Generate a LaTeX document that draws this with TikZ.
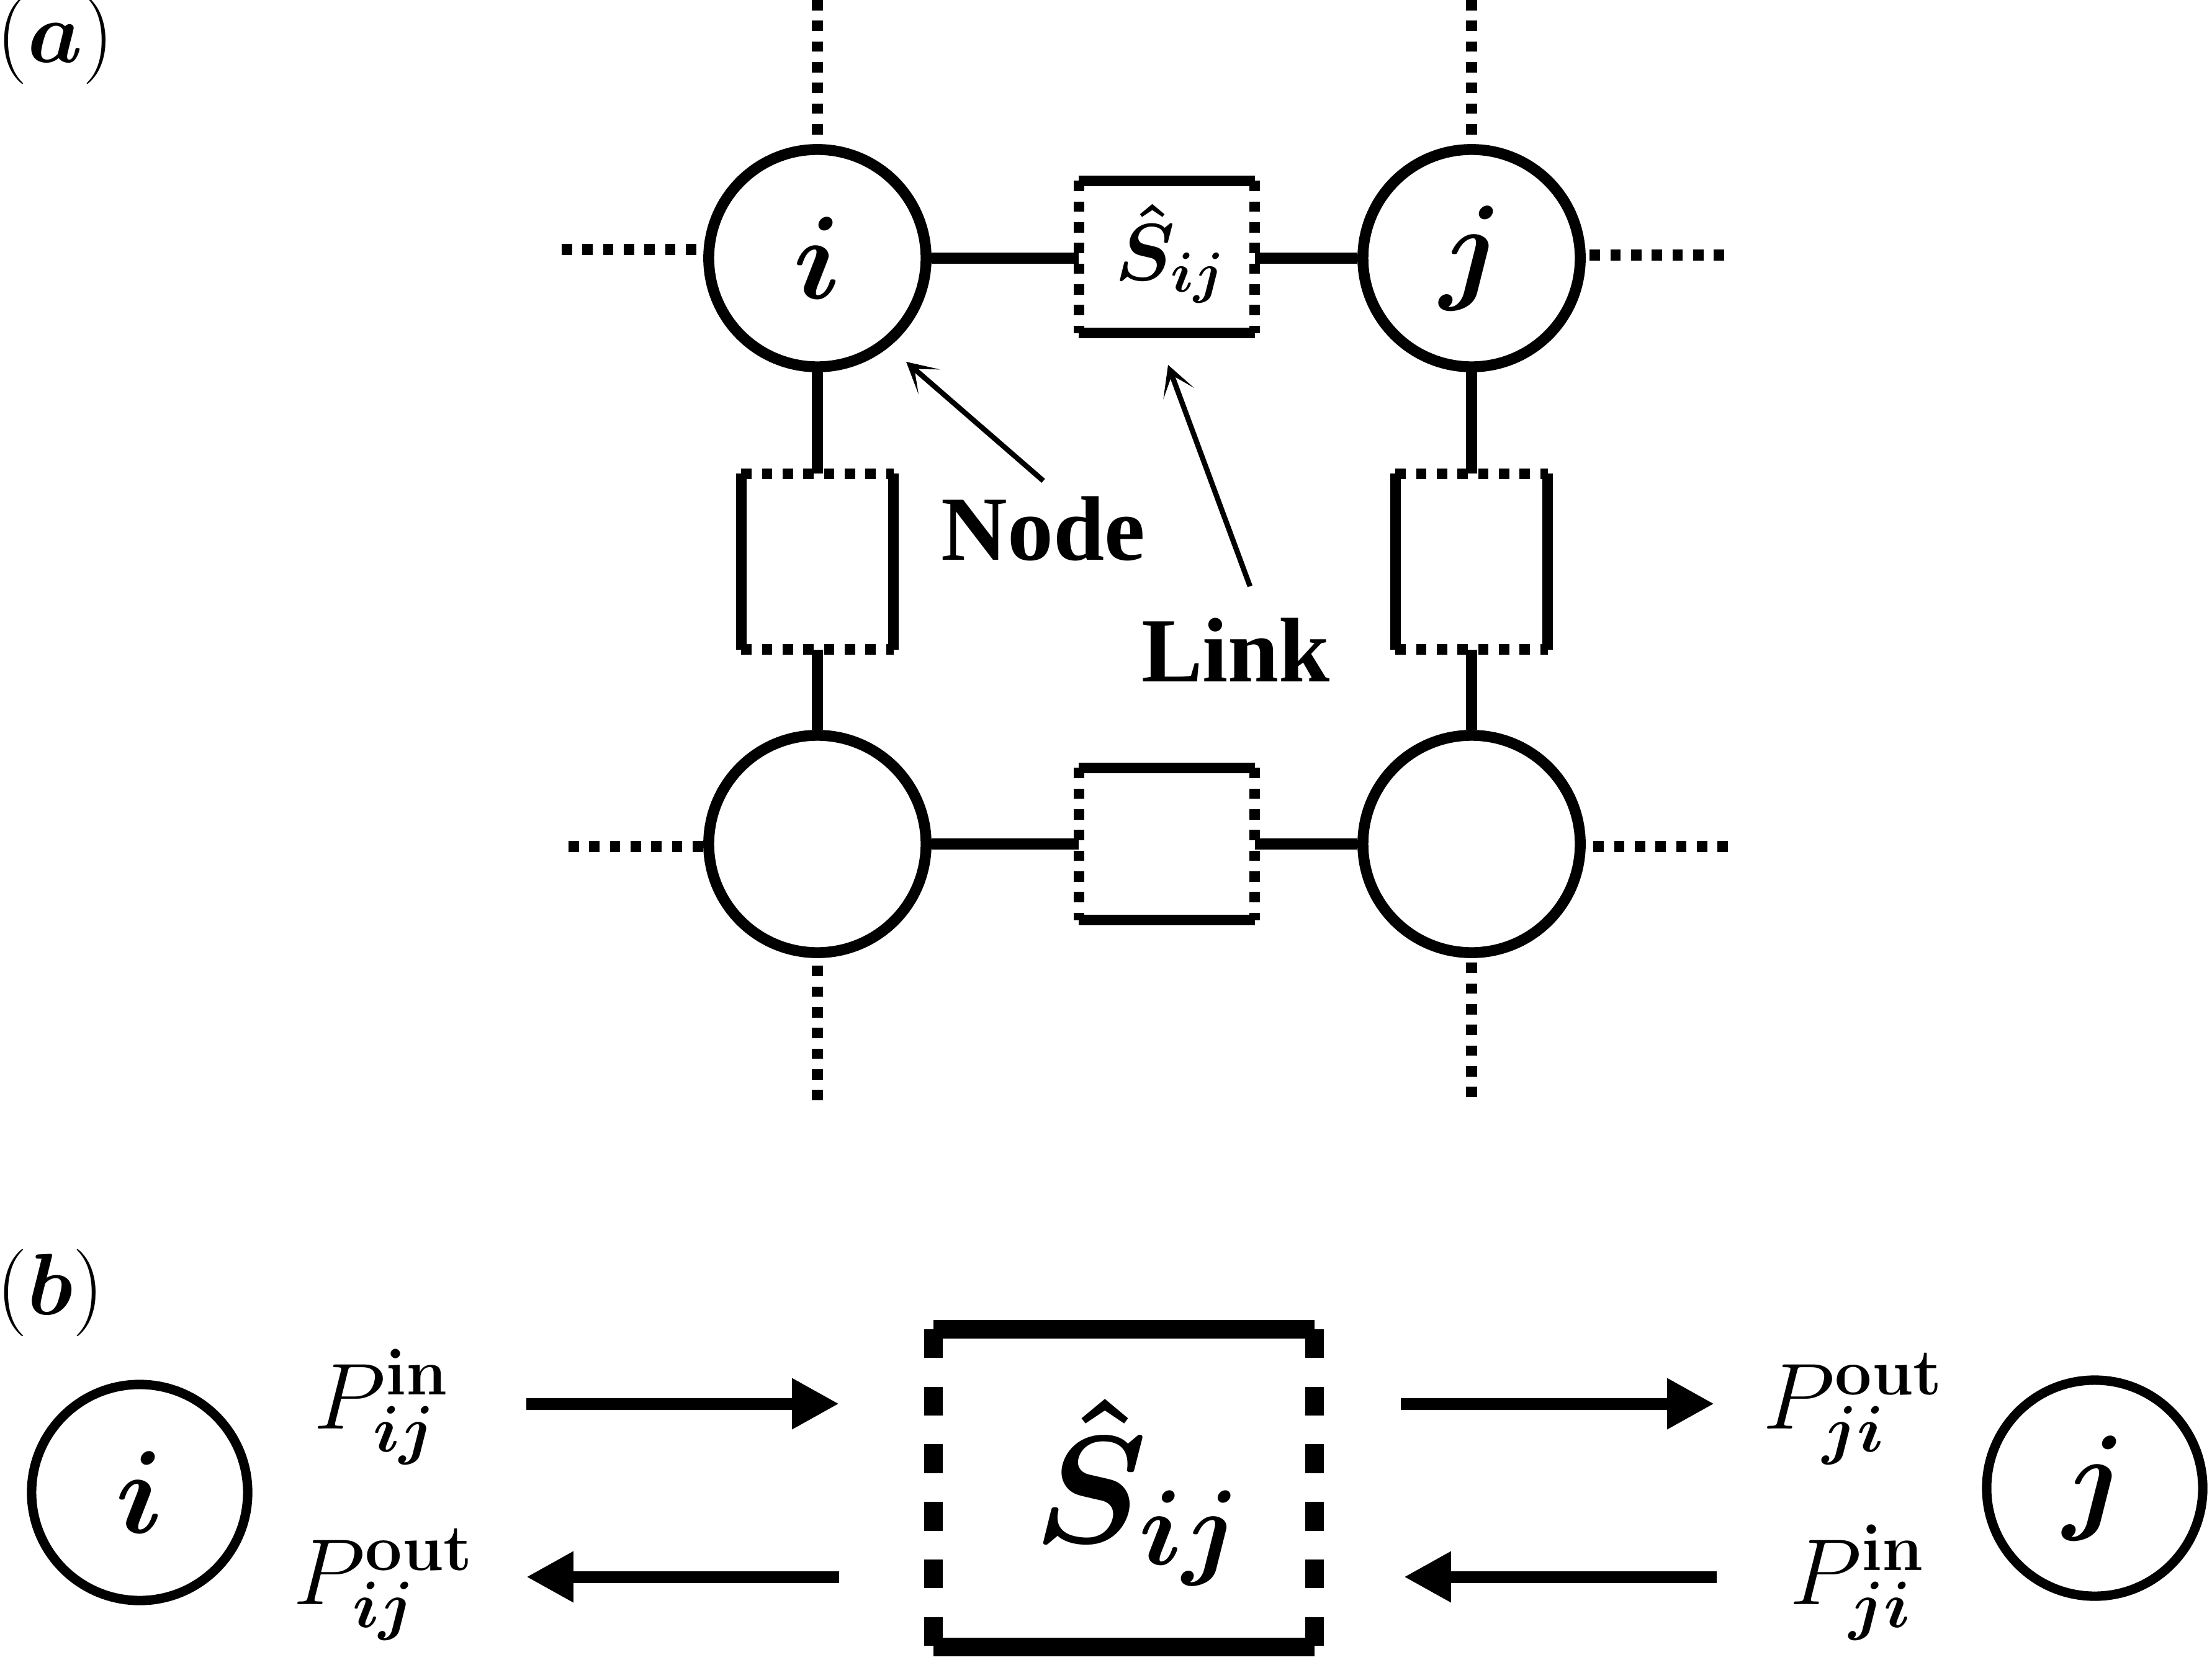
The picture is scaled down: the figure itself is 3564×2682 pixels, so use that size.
\RequirePackage{fix-cm}
\documentclass[tikz,border=0pt]{standalone}
\usepackage{amsmath}
\usepackage{bm}
\usepackage[no-math]{fontspec}
\newfontfamily\tnr{Liberation Serif}
\usetikzlibrary{arrows.meta,calc}
\begin{document}
\begin{tikzpicture}[x=0.01cm,y=-0.01cm,
  nd/.style={circle,draw,line width=5pt,minimum size=3.5cm,inner sep=0pt,font=\fontsize{54}{60}\selectfont},
  ndb/.style={circle,draw,line width=4.3pt,minimum size=3.48cm,inner sep=0pt,font=\fontsize{54}{60}\selectfont},
  hbox/.style={rectangle,minimum width=2.82cm,minimum height=2.44cm,inner sep=0pt},
  vbox/.style={rectangle,minimum width=2.44cm,minimum height=2.82cm,inner sep=0pt},
  solidedge/.style={line width=4.8pt},
  dotedge/.style={line width=4.8pt,dash pattern=on 4.74pt off 4.74pt},
  bigsolid/.style={line width=8.5pt},
  bigdash/.style={line width=8.5pt,dash pattern=on 13.2pt off 13.2pt},
  conn/.style={line width=5pt},
  stub/.style={line width=5pt,dash pattern=on 4.74pt off 4.74pt},
  ptr/.style={line width=2.4pt,-{Stealth[length=14pt,width=15pt,inset=9pt]}},
  flow/.style={line width=5.4pt,-{Triangle[length=21.6pt,width=21.9pt]}},
  lab/.style={font=\fontsize{40}{46}\selectfont,inner sep=0pt},
  word/.style={font=\tnr\bfseries\fontsize{42}{48}\selectfont,anchor=base},
  plab/.style={font=\fontsize{43}{50}\selectfont,inner sep=0pt,anchor=base west},
]
\useasboundingbox (0,0) rectangle (3564,2682);

% ---------------- (a) ----------------
\node[lab,anchor=base west] (la) at (-6,101) {$(\bm{a})$};

\node[nd] (i) at (1317,416) {$\bm{i}$};
\node[nd] (j) at (2371,416) {$\bm{j}$};
\node[nd] (bl) at (1317,1360) {};
\node[nd] (br) at (2371,1360) {};

\node[hbox] (lt) at (1880,414) {};
\node[hbox] (lb) at (1880,1360) {};
\node[vbox] (ll) at (1317,905) {};
\node[vbox] (lr) at (2371,905) {};

\node[font=\fontsize{37}{44}\selectfont,inner sep=0pt] (slab) at (1885,409) {$\bm{\hat{S}}_{\bm{ij}}$};

% horizontal link boxes
\foreach \b in {lt,lb}{
  \draw[solidedge] (\b.north west) -- (\b.north east);
  \draw[solidedge] (\b.south west) -- (\b.south east);
  \draw[dotedge] (\b.north west) -- (\b.south west);
  \draw[dotedge] (\b.north east) -- (\b.south east);
}
% vertical link boxes
\foreach \b in {ll,lr}{
  \draw[solidedge] (\b.north west) -- (\b.south west);
  \draw[solidedge] (\b.north east) -- (\b.south east);
  \draw[dotedge] (\b.north west) -- (\b.north east);
  \draw[dotedge] (\b.south west) -- (\b.south east);
}

% solid connectors
\draw[conn] (i.east) -- (i.east -| lt.west);
\draw[conn] (lt.east |- j.west) -- (j.west);
\draw[conn] (bl.east) -- (bl.east -| lb.west);
\draw[conn] (lb.east |- br.west) -- (br.west);
\draw[conn] (i.south) -- (i.south |- ll.north);
\draw[conn] (ll.south -| bl.north) -- (bl.north);
\draw[conn] (j.south) -- (j.south |- lr.north);
\draw[conn] (lr.south -| br.north) -- (br.north);

% dotted stubs
\coordinate (iT) at (1317,0);
\coordinate (jT) at (2371,0);
\coordinate (iW) at (905,402);
\coordinate (jE) at (2778,411);
\coordinate (blW) at (916,1364);
\coordinate (brE) at (2784,1364);
\coordinate (blS) at (1317,1773);
\coordinate (brS) at (2371,1768);
\draw[stub] (iT) -- (i.north);
\draw[stub] (jT) -- (j.north);
\draw[stub] (iW) -- (iW -| i.west);
\draw[stub] (jE) -- (jE -| j.east);
\draw[stub] (blW) -- (blW -| bl.west);
\draw[stub] (brE) -- (brE -| br.east);
\draw[stub] (blS) -- (bl.south);
\draw[stub] (brS) -- (br.south);

% labels with pointers
\node[word,inner sep=0.24cm] (nodetxt) at (1681,902) {Node};
\node[word,inner sep=0.5cm] (linktxt) at (1991,1098) {Link};
\coordinate (ntip) at (1460,583);
\coordinate (ltip) at (1882,588);
\draw[ptr] (nodetxt.north) -- (ntip);
\draw[ptr] ([xshift=0.23cm]linktxt.north) -- (ltip);

% ---------------- (b) ----------------
\node[lab,anchor=base west] (lbb) at (-6,2118) {$(\bm{b})$};

\node[ndb] (bi) at (225,2405) {$\bm{i}$};
\node[ndb] (bj) at (3375,2398) {$\bm{j}$};

\node[rectangle,minimum width=6.12cm,minimum height=5.11cm,inner sep=0pt] (S) at (1811,2398) {};
\draw[bigsolid] (S.north west) -- (S.north east);
\draw[bigsolid] (S.south west) -- (S.south east);
\draw[bigdash] (S.north west) -- (S.south west);
\draw[bigdash] (S.north east) -- (S.south east);
\node[font=\fontsize{70}{80}\selectfont,inner sep=0pt] (Slab) at (1832,2405) {$\bm{\hat{S}}_{\bm{ij}}$};

\node[plab] (pinij) at (505,2302) {$P^{\mathbf{in}}_{\bm{ij}}$};
\node[plab] (poutij) at (472,2585) {$P^{\mathbf{out}}_{\bm{ij}}$};
\node[plab] (poutji) at (2840,2302) {$P^{\mathbf{out}}_{\bm{ji}}$};
\node[plab] (pinji) at (2883,2585) {$P^{\mathbf{in}}_{\bm{ji}}$};

\coordinate (a1s) at (848,2262);
\coordinate (a1e) at (1352,2262);
\coordinate (a2s) at (1352,2541);
\coordinate (a2e) at (848,2541);
\coordinate (a3s) at (2257,2262);
\coordinate (a3e) at (2762,2262);
\coordinate (a4s) at (2766,2541);
\coordinate (a4e) at (2262,2541);
\draw[flow] (a1s) -- (a1e);
\draw[flow] (a2s) -- (a2e);
\draw[flow] (a3s) -- (a3e);
\draw[flow] (a4s) -- (a4e);
\end{tikzpicture}
\end{document}
